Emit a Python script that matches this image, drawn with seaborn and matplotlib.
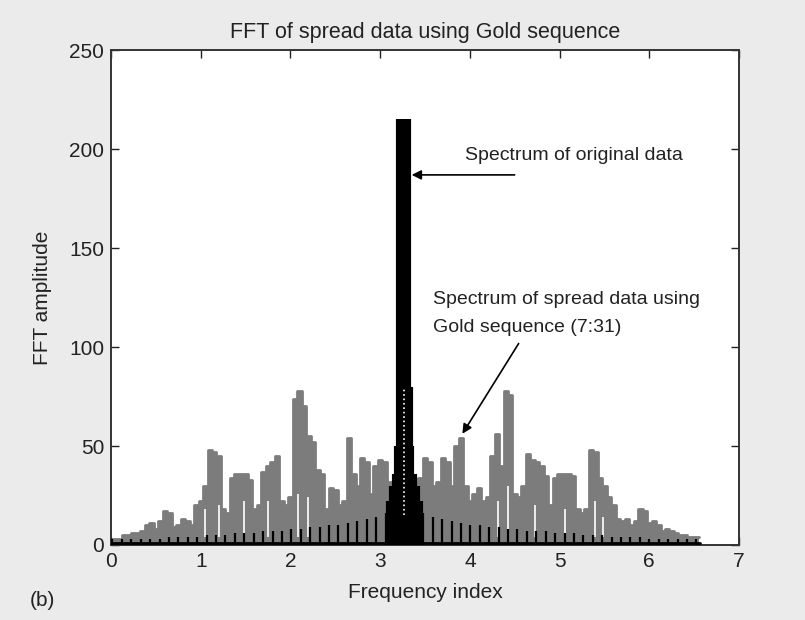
import numpy as np
import pandas as pd
import matplotlib
matplotlib.use("Agg")
import matplotlib.pyplot as plt
import seaborn as sns

# spread-data spectrum (gray), sampled every 0.05 on the frequency index axis
spread_amp = [
    3, 3, 3, 5, 5, 6, 6, 7, 10, 11,            # 0.00 - 0.45
    8, 12, 17, 16, 9, 10, 13, 12, 10, 20,      # 0.50 - 0.95
    22, 30, 48, 47, 45, 18, 16, 34, 36, 36,    # 1.00 - 1.45
    36, 33, 18, 20, 37, 40, 42, 45, 22, 20,    # 1.50 - 1.95
    24, 74, 78, 70, 55, 52, 38, 36, 18, 29,    # 2.00 - 2.45
    28, 20, 22, 54, 36, 30, 44, 42, 26, 40,    # 2.50 - 2.95
    43, 42, 32, 30, 28, 26, 28, 30, 32, 34,    # 3.00 - 3.45
    44, 42, 30, 32, 44, 42, 30, 50, 54, 30,    # 3.50 - 3.95
    22, 26, 29, 22, 24, 45, 56, 40, 78, 76,    # 4.00 - 4.45
    26, 24, 30, 46, 43, 42, 40, 35, 20, 34,    # 4.50 - 4.95
    36, 36, 36, 35, 18, 16, 18, 48, 47, 34,    # 5.00 - 5.45
    30, 24, 20, 13, 12, 13, 10, 12, 18, 17,    # 5.50 - 5.95
    11, 12, 10, 7, 8, 7, 6, 5, 5, 4,           # 6.00 - 6.45
    4, 4,                                      # 6.50 - 6.55
]
spread_step = 0.05

# thin white gaps inside the gray spectrum
gap_freq = [1.05, 1.20, 1.48, 1.75, 2.08, 2.20, 4.31, 4.43, 4.73, 5.06, 5.40, 5.48]
gap_top = [18, 20, 22, 22, 26, 24, 22, 30, 20, 18, 22, 14]

# original-data spectrum (black): main lobe
peak_freq = [3.09, 3.12, 3.15, 3.18, 3.20, 3.22, 3.24, 3.26, 3.28, 3.30, 3.32, 3.34, 3.36, 3.39, 3.42, 3.45]
peak_amp = [22, 30, 36, 50, 215, 215, 215, 215, 215, 215, 215, 80, 50, 36, 30, 22]

# original-data spectrum (black): side lobes, 31 each side of the centre
side_amp_right = [20, 16, 14, 13, 12, 11, 10, 10, 9, 9, 8, 8, 7, 7, 7, 6,
                  6, 6, 5, 5, 5, 4, 4, 4, 4, 3, 3, 3, 3, 3, 3]
side_amp_left = side_amp_right[::-1]
centre = 3.27
side_step = 0.105

spread_df = pd.DataFrame({
    "freq": np.arange(len(spread_amp)) * spread_step,
    "amp": spread_amp,
})
side_amp = side_amp_left + side_amp_right
side_freq = np.concatenate([
    centre - side_step * np.arange(len(side_amp_left), 0, -1),
    centre + side_step * np.arange(1, len(side_amp_right) + 1),
])

sns.set_style("ticks")
plt.rcParams["font.family"] = ["Liberation Sans", "DejaVu Sans"]

fig = plt.figure(figsize=(8.05, 6.2), dpi=100, facecolor="#ebebeb")
ax = fig.add_axes([0.138, 0.121, 0.780, 0.798])
ax.set_facecolor("white")

gray = "#7c7c7c"
ax.fill_between(spread_df["freq"], 0, spread_df["amp"], step="mid",
                color=gray, lw=0, zorder=2)
sns.lineplot(data=spread_df, x="freq", y="amp", ax=ax, color=gray,
             drawstyle="steps-mid", lw=2.0, zorder=2)
ax.vlines(gap_freq, 4, gap_top, color="white", lw=1.2, zorder=3)

# black spectrum
ax.vlines(side_freq, 0, side_amp, color="black", lw=1.6, zorder=4)
ax.vlines(peak_freq, 0, peak_amp, color="black", lw=3.0, zorder=4)
ax.plot([centre, centre], [15, 80], color="white", lw=1.2, ls=":", zorder=5)
ax.plot([0, 6.57], [0.8, 0.8], color="black", lw=2.0, zorder=4)

ax.set_xlim(0, 7)
ax.set_ylim(0, 250)
ax.set_xticks(range(0, 8))
ax.set_yticks(range(0, 251, 50))
ax.tick_params(direction="in", top=True, right=True, labelsize=15,
               length=6, width=1, colors="#222222", pad=5)
for s in ax.spines.values():
    s.set_visible(True)
    s.set_color("#333333")
    s.set_linewidth(1.4)

ax.set_title("FFT of spread data using Gold sequence", fontsize=15.5, pad=9, color="#222222")
ax.set_xlabel("Frequency index", fontsize=15, color="#222222", labelpad=9)
ax.set_ylabel("FFT amplitude", fontsize=15, color="#222222", labelpad=12)

ax.annotate("", xy=(3.32, 187), xytext=(4.53, 187),
            arrowprops=dict(arrowstyle="-|>", color="black", lw=1.2, mutation_scale=14))
ax.text(3.95, 197, "Spectrum of original data", fontsize=14, va="center", color="#222222")

ax.annotate("", xy=(3.90, 55), xytext=(4.56, 103),
            arrowprops=dict(arrowstyle="-|>", color="black", lw=1.2, mutation_scale=14))
ax.text(3.59, 124, "Spectrum of spread data using", fontsize=14, va="center", color="#222222")
ax.text(3.59, 110, "Gold sequence (7:31)", fontsize=14, va="center", color="#222222")

fig.text(0.037, 0.022, "(b)", fontsize=15, color="#222222")

fig.savefig("out.png", dpi=100, facecolor=fig.get_facecolor())
